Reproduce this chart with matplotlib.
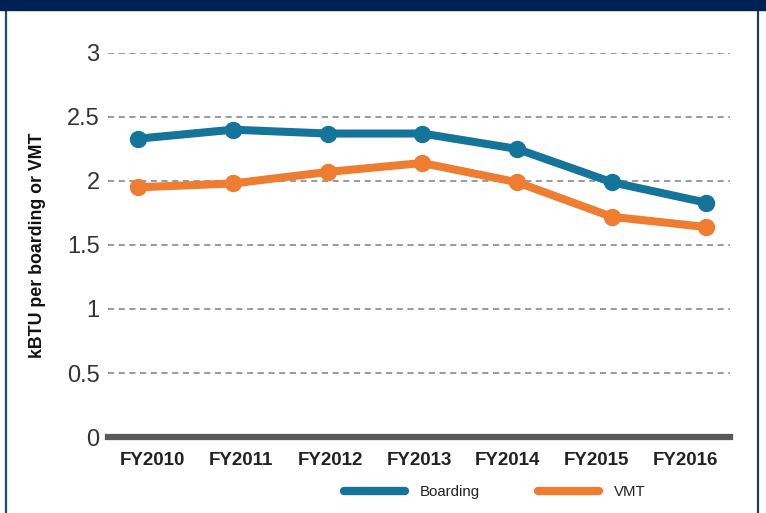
import matplotlib
matplotlib.use("Agg")
import matplotlib.pyplot as plt
from matplotlib.lines import Line2D
from matplotlib.patches import Rectangle

categories = ["FY2010", "FY2011", "FY2012", "FY2013", "FY2014", "FY2015", "FY2016"]
boarding = [2.33, 2.40, 2.37, 2.37, 2.25, 1.99, 1.83]
vmt = [1.95, 1.98, 2.07, 2.14, 1.99, 1.72, 1.64]
yticks = [0, 0.5, 1, 1.5, 2, 2.5, 3]
ytick_labels = ["0", "0.5", "1", "1.5", "2", "2.5", "3"]

c_board = "#14749a"
c_vmt = "#ee7d31"

plt.rcParams["font.family"] = ["Liberation Sans", "DejaVu Sans"]

fig = plt.figure(figsize=(7.66, 5.13), dpi=100)
ax = fig.add_axes([0.141, 0.148, 0.812, 0.749])

x = list(range(len(categories)))
ax.plot(x, boarding, color=c_board, lw=5.8, marker="o", ms=11.5,
        solid_capstyle="round", solid_joinstyle="round", zorder=3)
ax.plot(x, vmt, color=c_vmt, lw=5.8, marker="o", ms=11.5,
        solid_capstyle="round", solid_joinstyle="round", zorder=3)

x0, x1 = -0.32, 6.25
ax.set_xlim(x0, x1)
ax.set_ylim(0, 3)
ax.set_yticks(yticks)
ax.set_yticklabels(ytick_labels, fontsize=17, color="#333333")
# category labels sit at band centres of the axis
n = len(categories)
band = (x1 - x0) / n
ax.set_xticks([x0 + band * (k + 0.5) for k in range(n)])
ax.set_xticklabels(categories, fontsize=13.5, fontweight="bold", color="#222222")
ax.tick_params(axis="both", length=0)
ax.tick_params(axis="x", pad=11)
ax.tick_params(axis="y", pad=6)

for y in yticks[1:]:
    ax.axhline(y, color="#7f7f7f", lw=1.1, ls=(0, (4, 3)), zorder=1)
ax.axhline(0, color="#595959", lw=4.5, zorder=2, clip_on=False)

for s in ax.spines.values():
    s.set_visible(False)

ax.set_ylabel("kBTU per boarding or VMT", fontsize=12.8, fontweight="bold",
              color="#111111", labelpad=15)

handles = [Line2D([0], [0], color=c_board, lw=6.0, solid_capstyle="round"),
           Line2D([0], [0], color=c_vmt, lw=6.0, solid_capstyle="round")]
fig.legend(handles, ["Boarding", "VMT"], loc="center", bbox_to_anchor=(0.646, 0.040),
           ncol=2, frameon=False, fontsize=10.8, handlelength=4.1,
           handletextpad=1.0, columnspacing=3.85, labelcolor="#222222")

# frame decorations
fig.patches.append(Rectangle((0, 1 - 10 / 513), 1, 10 / 513, transform=fig.transFigure,
                             color="#002157", zorder=10))
fig.lines.append(Line2D([5.5 / 766, 5.5 / 766], [0, 1], transform=fig.transFigure,
                        color="#1c4f60", lw=1.6))
fig.lines.append(Line2D([757.5 / 766, 757.5 / 766], [0, 1], transform=fig.transFigure,
                        color="#1c3f55", lw=1.6))

fig.savefig("out.png", dpi=100)
